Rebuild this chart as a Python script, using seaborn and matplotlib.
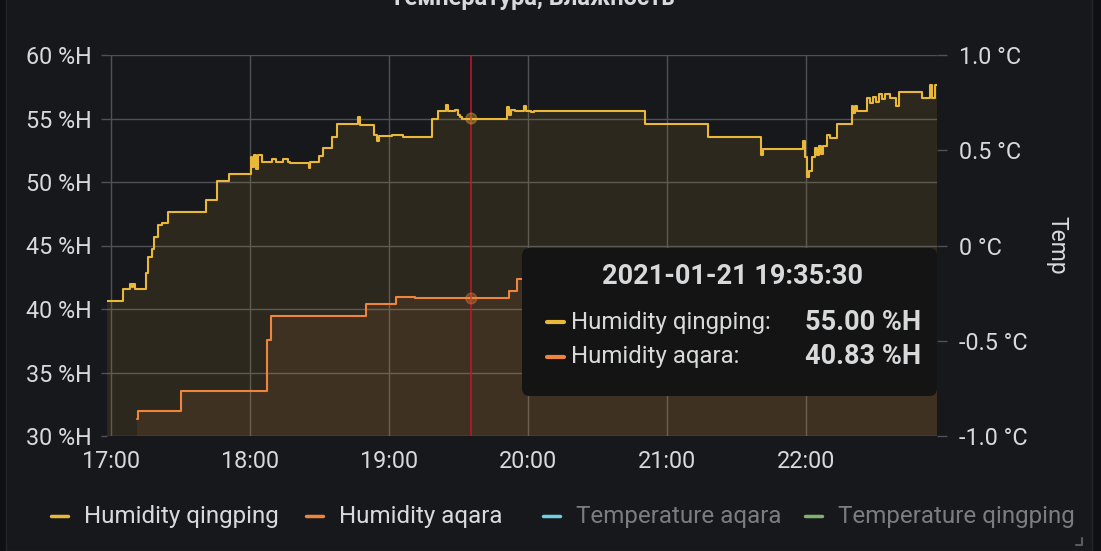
import pandas as pd
import seaborn as sns
import matplotlib.pyplot as plt
import matplotlib.dates as mdates
from matplotlib.lines import Line2D
from matplotlib.patches import FancyBboxPatch, Rectangle

# --- Data ---
DAY = "2021-01-21 "

qingping_times = [
    "16:58:16", "17:05:03", "17:08:12", "17:08:51", "17:09:30", "17:10:22", "17:15:06",
    "17:16:06", "17:17:34", "17:18:42", "17:20:24", "17:21:54", "17:24:42", "17:41:00",
    "17:45:36", "17:51:06", "18:00:18", "18:00:54", "18:01:42", "18:02:36", "18:03:30",
    "18:05:12", "18:09:30", "18:11:12", "18:14:12", "18:16:24", "18:17:18", "18:25:30",
    "18:26:06", "18:29:48", "18:31:24", "18:35:18", "18:37:42", "18:46:36", "18:47:30",
    "18:53:30", "18:54:48", "18:55:30", "19:01:18", "19:06:00", "19:18:24", "19:21:18",
    "19:24:30", "19:25:30", "19:28:30", "19:29:48", "19:30:36", "19:31:30", "19:50:54",
    "19:51:48", "19:52:42", "19:54:24", "19:58:18", "19:59:06", "20:01:18", "20:02:36",
    "20:50:30", "21:17:48", "21:40:36", "21:41:24", "21:58:42", "21:59:36", "22:00:24",
    "22:01:18", "22:02:30", "22:03:54", "22:04:48", "22:05:36", "22:06:30", "22:07:18",
    "22:08:54", "22:10:18", "22:13:12", "22:19:42", "22:20:18", "22:21:06", "22:22:00",
    "22:26:12", "22:27:36", "22:28:54", "22:30:12", "22:31:30", "22:32:48", "22:34:06",
    "22:36:18", "22:38:54", "22:40:12", "22:50:00", "22:53:30", "22:54:12", "22:55:42",
    "22:56:32",
]
qingping_hum = [
    40.65, 41.6, 42.0, 41.7, 42.0, 41.6, 42.8,
    44.1, 44.7, 45.7, 46.6, 46.8, 47.66, 48.6,
    50.1, 50.63, 52.0, 51.2, 52.1, 51.0, 52.1,
    51.6, 51.8, 51.6, 51.8, 51.6, 51.5, 51.1,
    51.6, 52.05, 52.65, 53.57, 54.6, 55.1, 54.5,
    53.7, 53.2, 53.6, 53.7, 53.57, 55.0, 55.6,
    56.06, 55.6, 55.7, 55.3, 55.1, 55.0, 55.9,
    55.3, 55.7, 55.6, 56.0, 55.6, 55.5, 55.6,
    54.6, 53.57, 52.1, 52.57, 53.2, 52.0, 50.4,
    50.9, 52.0, 52.7, 52.1, 52.8, 52.2, 52.8,
    53.7, 53.5, 54.6, 56.0, 55.4, 56.0, 55.6,
    56.6, 56.2, 56.7, 56.3, 56.9, 56.5, 56.9,
    56.6, 56.0, 57.1, 56.6, 57.6, 56.6, 57.6,
    57.6,
]

aqara_times = [
    "17:11:06", "17:11:39", "17:30:12", "18:07:12", "18:09:06", "18:50:00",
    "19:02:54", "19:11:12", "19:51:54", "19:55:06", "20:10:00", "21:00:00",
    "22:00:00", "22:20:00", "22:56:32",
]
aqara_hum = [
    31.3, 31.97, 33.57, 37.56, 39.45, 40.37,
    40.97, 40.84, 41.44, 42.34, 42.9, 42.6,
    42.2, 43.0, 43.4,
]

hum_ticks = [30, 35, 40, 45, 50, 55, 60]
hum_tick_labels = ["30 %H", "35 %H", "40 %H", "45 %H", "50 %H", "55 %H", "60 %H"]
temp_ticks = [-1.0, -0.5, 0.0, 0.5, 1.0]
temp_tick_labels = ["-1.0 °C", "-0.5 °C", "0 °C", "0.5 °C", "1.0 °C"]
hour_ticks = ["17:00", "18:00", "19:00", "20:00", "21:00", "22:00"]
x_start, x_end = "16:58:16", "22:56:32"

series_names = ["Humidity qingping", "Humidity aqara", "Temperature aqara", "Temperature qingping"]
series_colors = ["#EAB839", "#EF843C", "#6ED0E0", "#7EB26D"]
series_hidden = [False, False, True, True]

cursor_time = "19:35:30"
cursor_values = [55.00, 40.83]
title = "Температура, Влажность"

# --- Style ---
BG = "#17181c"
OUTER = "#0f1013"
GRID = "#505156"
TXT = "#d8d9da"
DIM = "#7b7c80"

sns.set_theme(style="dark")
plt.rcParams["font.family"] = ["Roboto", "DejaVu Sans"]

W, H = 1101, 551


def fx(px):
    return px / W


def fy(py):
    return 1 - py / H


fig = plt.figure(figsize=(W / 100, H / 100), dpi=100, facecolor=OUTER)
fig.add_artist(Rectangle((fx(6), 0), fx(1092) - fx(6), 1.2, transform=fig.transFigure,
                         facecolor=BG, edgecolor="#24252a", lw=1, zorder=-10))

ax = fig.add_axes([fx(107), fy(436), fx(937) - fx(107), fy(55) - fy(436)])
ax.set_facecolor("none")

df_q = pd.DataFrame({"time": pd.to_datetime([DAY + t for t in qingping_times]),
                     "hum": qingping_hum})
df_a = pd.DataFrame({"time": pd.to_datetime([DAY + t for t in aqara_times]),
                     "hum": aqara_hum})

# fills (Grafana style, 10% opacity)
ax.fill_between(df_q["time"], df_q["hum"], 0, step="post", color=series_colors[0],
                alpha=0.1, lw=0, zorder=1)
ax.fill_between(df_a["time"], df_a["hum"], 0, step="post", color=series_colors[1],
                alpha=0.1, lw=0, zorder=1)

sns.lineplot(data=df_q, x="time", y="hum", ax=ax, color=series_colors[0], lw=1.5,
             drawstyle="steps-post", estimator=None, zorder=3)
sns.lineplot(data=df_a, x="time", y="hum", ax=ax, color=series_colors[1], lw=1.5,
             drawstyle="steps-post", estimator=None, zorder=3)

# crosshair
cur = pd.Timestamp(DAY + cursor_time)
ax.axvline(cur, color="#c4162a", lw=1.1, zorder=4)
ax.scatter([cur, cur], cursor_values, s=60, c=series_colors[:2], alpha=0.35,
           edgecolors=series_colors[:2], linewidths=1.0, zorder=5)

ax.set_xlim(pd.Timestamp(DAY + x_start), pd.Timestamp(DAY + x_end))
ax.set_ylim(30, 60)
ax.set_yticks(hum_ticks)
ax.set_yticklabels(hum_tick_labels)
ax.set_xticks(pd.to_datetime([DAY + t for t in hour_ticks]))
ax.xaxis.set_major_formatter(mdates.DateFormatter("%H:%M"))
ax.set_xlabel("")
ax.set_ylabel("")
ax.grid(True, color=GRID, lw=1)
ax.set_axisbelow(True)
for s in ax.spines.values():
    s.set_visible(False)
ax.tick_params(axis="y", left=True, length=4, width=1, color=GRID, pad=7,
               labelsize=16.8, labelcolor=TXT)
ax.tick_params(axis="x", length=0, pad=10, labelsize=16.8, labelcolor=TXT)

ax2 = ax.twinx()
ax2.set_ylim(-1, 1)
ax2.set_yticks(temp_ticks)
ax2.set_yticklabels(temp_tick_labels)
ax2.grid(False)
for s in ax2.spines.values():
    s.set_visible(False)
ax2.tick_params(axis="y", right=True, length=7, width=1, color=GRID, pad=9,
                labelsize=16.8, labelcolor=TXT)
ax2.set_ylabel("Temp", rotation=270, color=TXT, fontsize=16.5, va="center")
ax2.yaxis.set_label_coords((1057 - 107) / (937 - 107), 0.5)

# title (cut off by the top edge, as in the panel screenshot)
fig.text(fx(532), fy(5), title, ha="center", va="baseline", fontsize=17,
         fontweight="bold", color=TXT)

# tooltip
tip = FancyBboxPatch((fx(522), fy(396)), fx(937) - fx(522), fy(248) - fy(396),
                     boxstyle="round,pad=0,rounding_size=0.007", mutation_aspect=W / H,
                     transform=fig.transFigure, facecolor="#141414", edgecolor="none",
                     zorder=10)
fig.add_artist(tip)
fig.text(fx(732), fy(277), DAY + cursor_time, ha="center", va="center", fontsize=19.5,
         fontweight="bold", color=TXT, zorder=11)
for i, (name, val) in enumerate(zip(series_names[:2], cursor_values)):
    yy = 322 + i * 35
    fig.add_artist(Line2D([fx(547), fx(564)], [fy(yy), fy(yy)], transform=fig.transFigure,
                          color=series_colors[i], lw=3, solid_capstyle="round", zorder=11))
    fig.text(fx(571), fy(yy), f"{name}:", ha="left", va="center", fontsize=17.3,
             color=TXT, zorder=11)
    fig.text(fx(921), fy(yy), f"{val:.2f} %H", ha="right", va="center", fontsize=19.5,
             fontweight="bold", color=TXT, zorder=11)

# legend (Grafana puts the items at fixed places below the graph)
leg_dash_x = [49, 304, 541, 803]
for name, col, hidden, x0 in zip(series_names, series_colors, series_hidden, leg_dash_x):
    fig.add_artist(Line2D([fx(x0 + 2), fx(x0 + 19)], [fy(516), fy(516)],
                          transform=fig.transFigure, color=col, lw=2.5,
                          solid_capstyle="round"))
    fig.text(fx(x0 + 35), fy(516), name, ha="left", va="center", fontsize=17.4,
             color=DIM if hidden else TXT)

# resize handle in the corner
fig.add_artist(Line2D([fx(1076), fx(1082), fx(1082)], [fy(545), fy(545), fy(538)],
                      transform=fig.transFigure, color="#5a5b60", lw=1.5))

fig.savefig("out.png", dpi=100, facecolor=fig.get_facecolor())
